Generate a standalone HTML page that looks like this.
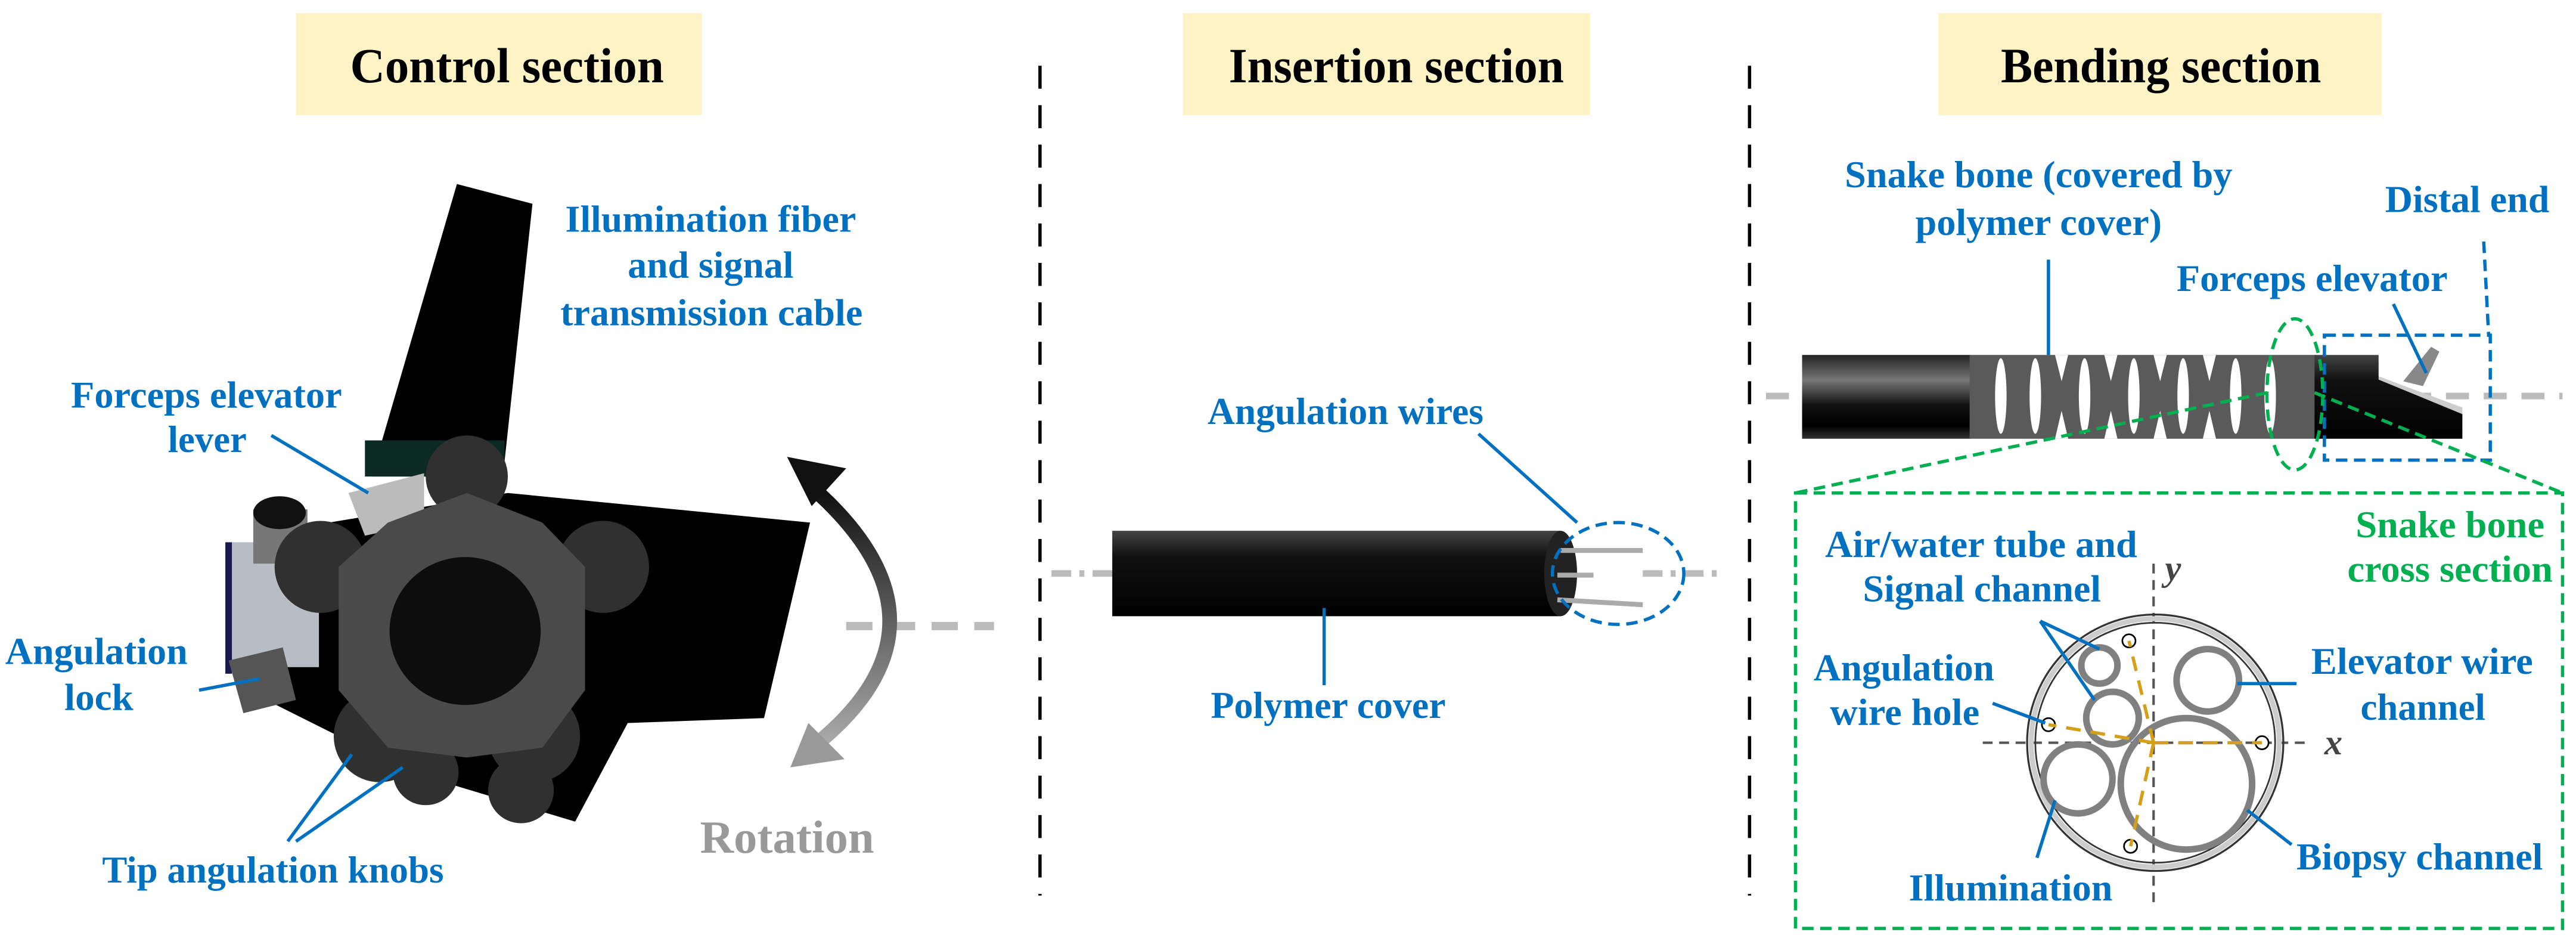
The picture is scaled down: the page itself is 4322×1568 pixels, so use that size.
<!DOCTYPE html>
<html><head><meta charset="utf-8"><style>
html,body{margin:0;padding:0;background:#fff;}
svg{display:block;}
text{font-family:"Liberation Serif",serif;font-weight:bold;}
.b{fill:#0070c0;font-size:23px;}
.g{fill:#00b050;font-size:23px;}
.h{fill:#000;font-size:30px;}
</style></head><body>
<svg width="4322" height="1568" viewBox="0 0 1568 569" xmlns="http://www.w3.org/2000/svg">
<defs>
<linearGradient id="tube" x1="0" y1="0" x2="0" y2="1"><stop offset="0" stop-color="#222"/><stop offset="0.3" stop-color="#777"/><stop offset="0.6" stop-color="#111"/><stop offset="0.85" stop-color="#000"/><stop offset="1" stop-color="#333"/></linearGradient>
<linearGradient id="tube2" x1="0" y1="0" x2="0" y2="1"><stop offset="0" stop-color="#444"/><stop offset="0.3" stop-color="#111"/><stop offset="1" stop-color="#000"/></linearGradient>
<linearGradient id="arr" x1="0" y1="0" x2="0" y2="1"><stop offset="0" stop-color="#111"/><stop offset="1" stop-color="#aaa"/></linearGradient>
</defs>
<!-- headers -->
<rect x="180" y="8" width="247" height="62" fill="#fdf3c4"/>
<rect x="720" y="8" width="248" height="62" fill="#fdf3c4"/>
<rect x="1180" y="8" width="270" height="62" fill="#fdf3c4"/>
<text class="h" x="213" y="50" textLength="191" lengthAdjust="spacingAndGlyphs">Control section</text>
<text class="h" x="748" y="50" textLength="204" lengthAdjust="spacingAndGlyphs">Insertion section</text>
<text class="h" x="1218" y="50" textLength="195" lengthAdjust="spacingAndGlyphs">Bending section</text>
<line x1="633" y1="40" x2="633" y2="545" stroke="#000" stroke-width="2" stroke-dasharray="14,10"/>
<line x1="1065" y1="40" x2="1065" y2="545" stroke="#000" stroke-width="2" stroke-dasharray="14,10"/>

<!-- CONTROL -->
<polygon points="278,112 324,124 306,290 226,290" fill="#000"/>
<polygon points="200,318 309,300 493,318 465,437 382,440 350,500 250,470 150,420 170,360" fill="#000"/>
<rect x="222" y="268" width="85" height="22" fill="#0b2a24"/>
<polygon points="212,300 258,288 258,318 222,326" fill="#bbb"/>
<rect x="139" y="330" width="55" height="76" fill="#b8bcc4"/>
<rect x="137" y="330" width="4" height="80" fill="#1a1a4a"/>
<rect x="154" y="310" width="33" height="33" fill="#777"/>
<ellipse cx="170" cy="312" rx="16" ry="10" fill="#111"/>
<polygon points="139,402 172,394 180,426 148,434" fill="#555"/>
<g fill="#303030">
<circle cx="284" cy="290" r="25"/><circle cx="195" cy="345" r="28"/><circle cx="367" cy="345" r="28"/><circle cx="231" cy="448" r="28"/><circle cx="325" cy="448" r="28"/><circle cx="259" cy="470" r="20"/><circle cx="317" cy="481" r="20"/>
</g>
<path d="M284,300 L330,318 L356,345 L356,420 L330,455 L284,461 L236,455 L206,420 L206,345 L236,318 Z" fill="#4a4a4a"/>
<ellipse cx="283" cy="384" rx="46" ry="45" fill="#0d0d0d"/>
<line x1="515" y1="381" x2="605" y2="381" stroke="#bbb" stroke-width="5" stroke-dasharray="16,10"/>
<path d="M498,300 Q585,380 498,452" fill="none" stroke="url(#arr)" stroke-width="9"/>
<polygon points="479,278 515,285 494,308" fill="#111"/>
<polygon points="481,467 514,462 492,440" fill="#999"/>
<text x="426" y="519" textLength="106" lengthAdjust="spacingAndGlyphs" style="font-size:28px;fill:#999">Rotation</text>
<text class="b" x="344" y="141" textLength="177" lengthAdjust="spacingAndGlyphs">Illumination fiber</text>
<text class="b" x="382" y="169" textLength="101" lengthAdjust="spacingAndGlyphs">and signal</text>
<text class="b" x="341" y="198" textLength="184" lengthAdjust="spacingAndGlyphs">transmission cable</text>
<text class="b" x="43" y="248" textLength="165" lengthAdjust="spacingAndGlyphs">Forceps elevator</text>
<text class="b" x="102" y="275" textLength="48" lengthAdjust="spacingAndGlyphs">lever</text>
<line x1="165" y1="265" x2="224" y2="300" stroke="#0070c0" stroke-width="2"/>
<text class="b" x="3" y="404" textLength="111" lengthAdjust="spacingAndGlyphs">Angulation</text>
<text class="b" x="39" y="432" textLength="42" lengthAdjust="spacingAndGlyphs">lock</text>
<line x1="121" y1="420" x2="158" y2="413" stroke="#0070c0" stroke-width="2"/>
<text class="b" x="62" y="537" textLength="208" lengthAdjust="spacingAndGlyphs">Tip angulation knobs</text>
<line x1="175" y1="512" x2="214" y2="459" stroke="#0070c0" stroke-width="2"/>
<line x1="180" y1="512" x2="245" y2="467" stroke="#0070c0" stroke-width="2"/>

<!-- INSERTION -->
<line x1="640" y1="349" x2="680" y2="349" stroke="#bbb" stroke-width="4" stroke-dasharray="12,5,3,5"/>
<line x1="1000" y1="349" x2="1050" y2="349" stroke="#bbb" stroke-width="4" stroke-dasharray="12,5,3,5"/>
<rect x="677" y="323" width="273" height="52" fill="url(#tube2)"/>
<ellipse cx="950" cy="349" rx="10" ry="26" fill="#222"/>
<line x1="950" y1="335" x2="1000" y2="335" stroke="#aaa" stroke-width="3"/>
<line x1="948" y1="350" x2="970" y2="350" stroke="#aaa" stroke-width="3"/>
<line x1="948" y1="365" x2="1000" y2="368" stroke="#aaa" stroke-width="3"/>
<ellipse cx="985" cy="349" rx="40" ry="31" fill="none" stroke="#0070c0" stroke-width="2" stroke-dasharray="7,4"/>
<text class="b" x="735" y="258" textLength="168" lengthAdjust="spacingAndGlyphs">Angulation wires</text>
<line x1="900" y1="264" x2="960" y2="318" stroke="#0070c0" stroke-width="2"/>
<text class="b" x="737" y="437" textLength="143" lengthAdjust="spacingAndGlyphs">Polymer cover</text>
<line x1="806" y1="370" x2="806" y2="417" stroke="#0070c0" stroke-width="2"/>

<!-- BENDING -->
<line x1="1075" y1="241" x2="1560" y2="241" stroke="#bbb" stroke-width="4" stroke-dasharray="14,9"/>
<rect x="1097" y="216" width="103" height="51" fill="url(#tube)"/>
<rect x="1199" y="216" width="211" height="51" fill="#5a5a5a"/>
<g fill="#fff">
<ellipse cx="1218" cy="241" rx="3.5" ry="23"/><ellipse cx="1239" cy="241" rx="3.5" ry="23"/><ellipse cx="1269" cy="241" rx="3.5" ry="23"/><ellipse cx="1299" cy="241" rx="3.5" ry="23"/><ellipse cx="1329" cy="241" rx="3.5" ry="23"/><ellipse cx="1361" cy="241" rx="3.5" ry="23"/><ellipse cx="1382" cy="241" rx="3.5" ry="23"/>
</g>
<g fill="#fff">
<polygon points="1251,216 1259,216 1255,232"/><polygon points="1251,267 1259,267 1255,250"/>
<polygon points="1281,216 1289,216 1285,232"/><polygon points="1281,267 1289,267 1285,250"/>
<polygon points="1311,216 1319,216 1315,232"/><polygon points="1311,267 1319,267 1315,250"/>
<polygon points="1341,216 1349,216 1345,232"/><polygon points="1341,267 1349,267 1345,250"/>
</g>
<polygon points="1448,229 1499,248 1499,253 1448,233" fill="#ccc"/>
<path d="M1409,216 L1448,216 L1448,231 L1499,252 L1499,267 L1409,267 Z" fill="url(#tube2)"/>
<polygon points="1463,232 1480,211 1485,214 1475,235" fill="#888"/>
<rect x="1415" y="204" width="101" height="76" fill="none" stroke="#0070c0" stroke-width="2" stroke-dasharray="7,4"/>
<ellipse cx="1397" cy="240" rx="17" ry="46" fill="none" stroke="#00b050" stroke-width="2" stroke-dasharray="7,4"/>
<line x1="1380" y1="239" x2="1093" y2="300" stroke="#00b050" stroke-width="2" stroke-dasharray="7,4"/>
<line x1="1409" y1="239" x2="1560" y2="300" stroke="#00b050" stroke-width="2" stroke-dasharray="7,4"/>
<rect x="1093" y="300" width="467" height="265" fill="none" stroke="#00b050" stroke-width="2" stroke-dasharray="7,4"/>
<text class="b" x="1123" y="114" textLength="236" lengthAdjust="spacingAndGlyphs">Snake bone (covered by</text>
<text class="b" x="1166" y="143" textLength="150" lengthAdjust="spacingAndGlyphs">polymer cover)</text>
<line x1="1247" y1="158" x2="1247" y2="216" stroke="#0070c0" stroke-width="2"/>
<text class="b" x="1325" y="177" textLength="165" lengthAdjust="spacingAndGlyphs">Forceps elevator</text>
<line x1="1457" y1="185" x2="1477" y2="227" stroke="#0070c0" stroke-width="2"/>
<text class="b" x="1452" y="129" textLength="100" lengthAdjust="spacingAndGlyphs">Distal end</text>
<line x1="1512" y1="147" x2="1515" y2="204" stroke="#0070c0" stroke-width="2" stroke-dasharray="7,4"/>

<!-- cross section -->
<line x1="1207" y1="452" x2="1407" y2="452" stroke="#555" stroke-width="1.5" stroke-dasharray="6,4"/>
<line x1="1311" y1="343" x2="1311" y2="551" stroke="#555" stroke-width="1.5" stroke-dasharray="6,4"/>
<text x="1318" y="353" style="font-style:italic;font-size:22px;fill:#444">y</text>
<text x="1415" y="459" style="font-style:italic;font-size:22px;fill:#444">x</text>
<circle cx="1312" cy="452" r="78" fill="none" stroke="#333" stroke-width="1.2"/>
<circle cx="1312" cy="452" r="75.5" fill="none" stroke="#ccc" stroke-width="3"/>
<circle cx="1312" cy="452" r="73" fill="none" stroke="#333" stroke-width="1"/>
<g fill="none" stroke="#808080" stroke-width="4">
<circle cx="1278" cy="405" r="11"/><circle cx="1286" cy="437" r="16"/><circle cx="1344" cy="414" r="19"/><circle cx="1265" cy="474" r="21"/><circle cx="1331" cy="477" r="40"/>
</g>
<g fill="#fff" stroke="#000" stroke-width="1">
<circle cx="1296" cy="390" r="4"/><circle cx="1247" cy="441" r="4"/><circle cx="1377" cy="452" r="4"/><circle cx="1297" cy="515" r="4"/>
</g>
<g stroke="#d4a017" stroke-width="2" stroke-dasharray="9,6">
<line x1="1311" y1="452" x2="1296" y2="390"/><line x1="1311" y1="452" x2="1247" y2="441"/><line x1="1311" y1="452" x2="1377" y2="452"/><line x1="1311" y1="452" x2="1297" y2="515"/>
</g>
<text class="b" x="1111" y="339" textLength="190" lengthAdjust="spacingAndGlyphs">Air/water tube and</text>
<text class="b" x="1134" y="366" textLength="145" lengthAdjust="spacingAndGlyphs">Signal channel</text>
<line x1="1242" y1="378" x2="1278" y2="395" stroke="#0070c0" stroke-width="2"/>
<line x1="1242" y1="378" x2="1275" y2="426" stroke="#0070c0" stroke-width="2"/>
<text class="b" x="1104" y="414" textLength="110" lengthAdjust="spacingAndGlyphs">Angulation</text>
<text class="b" x="1114" y="441" textLength="91" lengthAdjust="spacingAndGlyphs">wire hole</text>
<line x1="1213" y1="428" x2="1245" y2="440" stroke="#0070c0" stroke-width="2"/>
<text class="b" x="1407" y="410" textLength="135" lengthAdjust="spacingAndGlyphs">Elevator wire</text>
<text class="b" x="1437" y="438" textLength="76" lengthAdjust="spacingAndGlyphs">channel</text>
<line x1="1362" y1="416" x2="1398" y2="416" stroke="#0070c0" stroke-width="2"/>
<text class="b" x="1398" y="529" textLength="150" lengthAdjust="spacingAndGlyphs">Biopsy channel</text>
<line x1="1368" y1="493" x2="1395" y2="514" stroke="#0070c0" stroke-width="2"/>
<text class="b" x="1162" y="548" textLength="124" lengthAdjust="spacingAndGlyphs">Illumination</text>
<line x1="1251" y1="487" x2="1240" y2="522" stroke="#0070c0" stroke-width="2"/>
<text class="g" x="1434" y="327" textLength="115" lengthAdjust="spacingAndGlyphs">Snake bone</text>
<text class="g" x="1429" y="354" textLength="125" lengthAdjust="spacingAndGlyphs">cross section</text>
</svg>
</body></html>
